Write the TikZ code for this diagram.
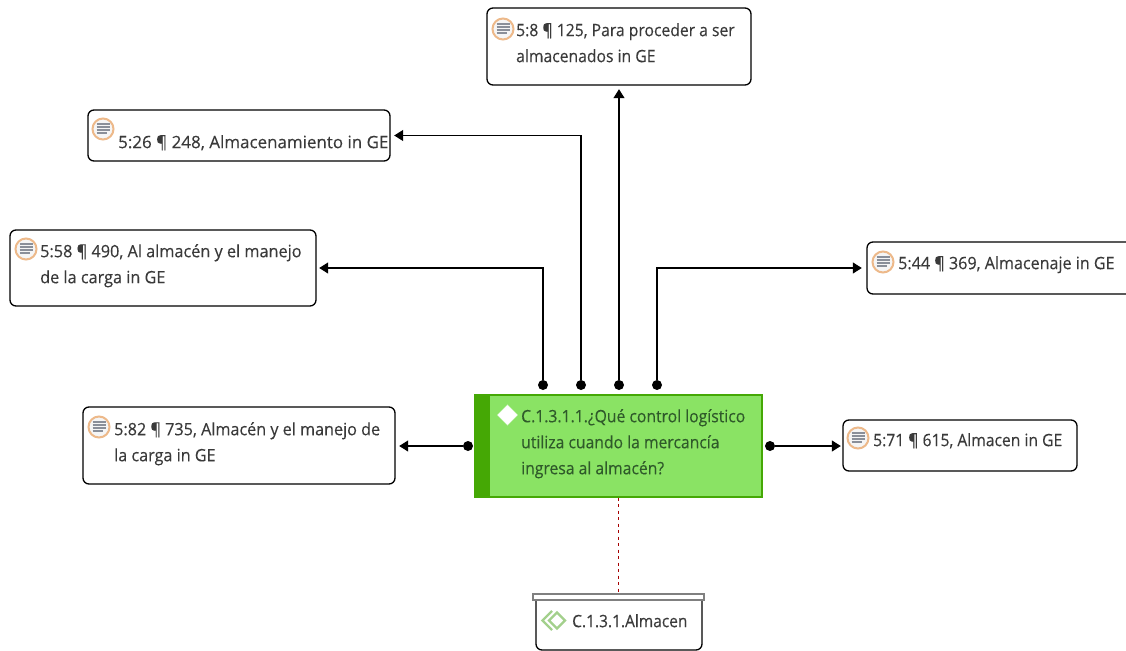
\documentclass[tikz,border=0pt]{standalone}
\usepackage{fontspec}
\setmainfont{Open Sans}[FakeBold=0.25]
\usetikzlibrary{arrows.meta,shapes.geometric}
\definecolor{txt}{HTML}{3A3A3A}
\definecolor{gfill}{HTML}{8AE364}
\definecolor{gdark}{HTML}{45A805}
\definecolor{gtxt}{HTML}{2F5A2A}
\definecolor{iconring}{HTML}{EDB98A}
\definecolor{iconline}{HTML}{8A8F99}
\definecolor{codeicon}{HTML}{A3D08C}
\tikzset{
  x=1pt,y=-1pt,
  box/.style={draw=black,line width=1.3pt,rounded corners=6pt,fill=white},
  lab/.style={anchor=north west,align=left,inner sep=0pt,text=txt,font=\fontsize{17}{26}\selectfont},
  dot/.style={circle,fill=black,inner sep=0pt,minimum size=10pt},
  conn/.style={line width=1.3pt,-{Triangle[length=9pt,width=11pt]}},
}
\newcommand{\sx}[2]{\scalebox{#1}[1]{#2}}
\newcommand{\docicon}[2]{%
  \draw[draw=iconring,line width=2pt,fill=white!92!gray] (#1,#2) circle (10.5);
  \foreach \i/\w in {-5/6.5,-2/6.5,1/6.5,4/4}{\draw[iconline,line width=1.6pt] ({#1-6.5},{#2+\i}) -- ({#1+\w},{#2+\i});}
}
\begin{document}
\begin{tikzpicture}
\useasboundingbox (0,0) rectangle (1126,650);
\fill[white] (0,0) rectangle (1126,650);
% boxes
\draw[box] (487,8) rectangle (751,85);
\node[inner sep=0pt] (a) at (619,46.5) [minimum width=264pt,minimum height=77pt] {};
\draw[box] (88,110) rectangle (390,161);
\node[inner sep=0pt] (b) at (239,135.5) [minimum width=302pt,minimum height=51pt] {};
\draw[box] (10,230) rectangle (316,306);
\node[inner sep=0pt] (c) at (163,268) [minimum width=306pt,minimum height=76pt] {};
\draw[box] (867,242) rectangle (1135,294);
\node[inner sep=0pt] (d) at (1001,268) [minimum width=268pt,minimum height=52pt] {};
\draw[box] (83,407) rectangle (395,484);
\node[inner sep=0pt] (e) at (239,446) [minimum width=312pt,minimum height=77pt] {};
\draw[box] (843,420) rectangle (1077,471);
\node[inner sep=0pt] (f) at (960,446) [minimum width=234pt,minimum height=51pt] {};
% icons
\docicon{503}{29}
\docicon{103}{129}
\docicon{26}{249}
\docicon{883}{262}
\docicon{99}{427}
\docicon{858}{438}
% labels
\node[lab] at (516,23) {\sx{.924}{5:8 ¶ 125, Para proceder a ser}\\\sx{.924}{almacenados in GE}};
\node[lab] at (118,135) {\sx{.997}{5:26 ¶ 248, Almacenamiento in GE}};
\node[lab] at (40,244) {\sx{.956}{5:58 ¶ 490, Al almacén y el manejo}\\\sx{.956}{de la carga in GE}};
\node[lab] at (898,256) {\sx{.947}{5:44 ¶ 369, Almacenaje in GE}};
\node[lab] at (114,422) {\sx{.951}{5:82 ¶ 735, Almacén y el manejo de}\\\sx{.951}{la carga in GE}};
\node[lab] at (873,433) {\sx{.921}{5:71 ¶ 615, Almacen in GE}};
% centre
\node[draw=gdark,line width=1.3pt,fill=gfill,minimum width=287pt,minimum height=102pt,inner sep=0pt] (m) at (618.5,446) {};
\fill[gdark] (475,395) rectangle (490,497);
\node[diamond,aspect=1,fill=white,draw=gfill!70!white,inner sep=0pt,minimum size=21pt] at (507.5,415) {};
\node[lab,text=gtxt] at (521,409) {\sx{.924}{C.1.3.1.1.¿Qué control logístico}\\\sx{.924}{utiliza cuando la mercancía}\\\sx{.924}{ingresa al almacén?}};
% code box
\draw[draw=black,line width=1.3pt,rounded corners=6pt] (536,600) -- (536,650) -- (702,650) -- (702,600);
\node[draw=gray,line width=1.3pt,fill=white,minimum width=171pt,minimum height=6pt,inner sep=0pt] (g) at (618.5,597) {};
\draw[codeicon,line width=2.4pt] (552,611) -- (542.5,620.5) -- (552,630);
\draw[codeicon,line width=2.4pt] (557,612.5) -- (549,620.5) -- (557,628.5) -- (565,620.5) -- cycle;
\node[lab] at (572,614) {\sx{.912}{C.1.3.1.Almacen}};
% dots
\node[dot] (d1) at (543,385) {};
\node[dot] (d2) at (581,385) {};
\node[dot] (d3) at (619,385) {};
\node[dot] (d4) at (657,385) {};
\node[dot] (dl) at (468,446) {};
\node[dot] (dr) at (770,446) {};
% connectors
\draw[conn] (d3) -- ([yshift=-4pt]a.south);
\draw[conn] (d2) |- ([xshift=4pt]b.east);
\draw[conn] (d1) |- ([xshift=3pt]c.east);
\draw[conn] (d4) |- ([xshift=-5pt]d.west);
\draw[conn] (dl) -- ([xshift=4pt]e.east);
\draw[conn] (dr) -- ([xshift=-2pt]f.west);
\draw[draw=red!65!black,line width=1.4pt,dash pattern=on 3pt off 3.5pt] (m.south) -- (g.north);
\end{tikzpicture}
\end{document}
